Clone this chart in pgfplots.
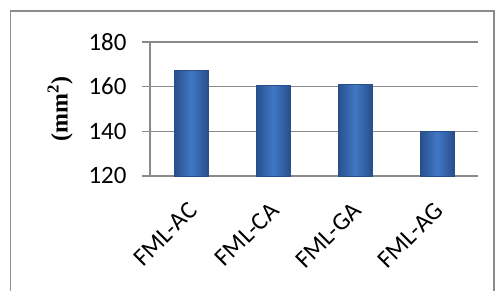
\documentclass[border=0pt]{standalone}
\usepackage{pgfplots}
\pgfplotsset{compat=1.18}
\usepackage{fontspec}
\setmainfont{Carlito}
\newfontfamily\serifb{Liberation Serif}
\definecolor{gridgray}{HTML}{8A8A8A}
\definecolor{framegray}{HTML}{8C8C8C}
\definecolor{bardark}{HTML}{274F8C}
\definecolor{barmid}{HTML}{4178C4}
\begin{document}
\begin{tikzpicture}[x=1bp,y=1bp]
\useasboundingbox (0,0) rectangle (496,291);
\draw[framegray,line width=1.3bp] (10.5,0) -- (10.5,280) -- (494,280) -- (494,0);
\begin{axis}[
  at={(150bp,115bp)}, anchor=south west,
  scale only axis, width=328bp, height=134bp,
  xmin=-0.5, xmax=3.5, ymin=120, ymax=180,
  ytick={120,140,160,180},
  xtick={0,1,2,3},
  xticklabels={FML-AC,FML-CA,FML-GA,FML-AG},
  axis x line*=bottom, axis y line*=left,
  axis line style={gridgray, line width=1.3bp, -},
  ymajorgrids, grid style={gridgray, line width=1.3bp},
  major tick style={gridgray, line width=1.3bp},
  tick align=outside, major tick length=8bp,
  xtick style={draw=none},
  /pgf/number format/assume math mode=true,
  tick label style={font=\fontsize{25}{29}\selectfont, black},
  yticklabel style={xshift=-12bp},
  xticklabel style={xshift=-4bp, yshift=-12bp, rotate=45, anchor=north east},
  clip=false,
  ybar, bar width=34bp, bar shift=0pt,
]
\tikzset{mybar/.style={draw=bardark, line width=0.6bp,
  left color=bardark, right color=bardark, middle color=barmid}}
\addplot[mybar] coordinates {(0,167.3)};
\addplot[mybar] coordinates {(1,160.4)};
\addplot[mybar] coordinates {(2,161.0)};
\addplot[mybar] coordinates {(3,140.1)};
\node[rotate=90, font=\fontsize{24}{28}\selectfont\serifb\bfseries] at (axis description cs:-0.274,0.5) {(mm\textsuperscript{2})};
\end{axis}
\end{tikzpicture}
\end{document}
